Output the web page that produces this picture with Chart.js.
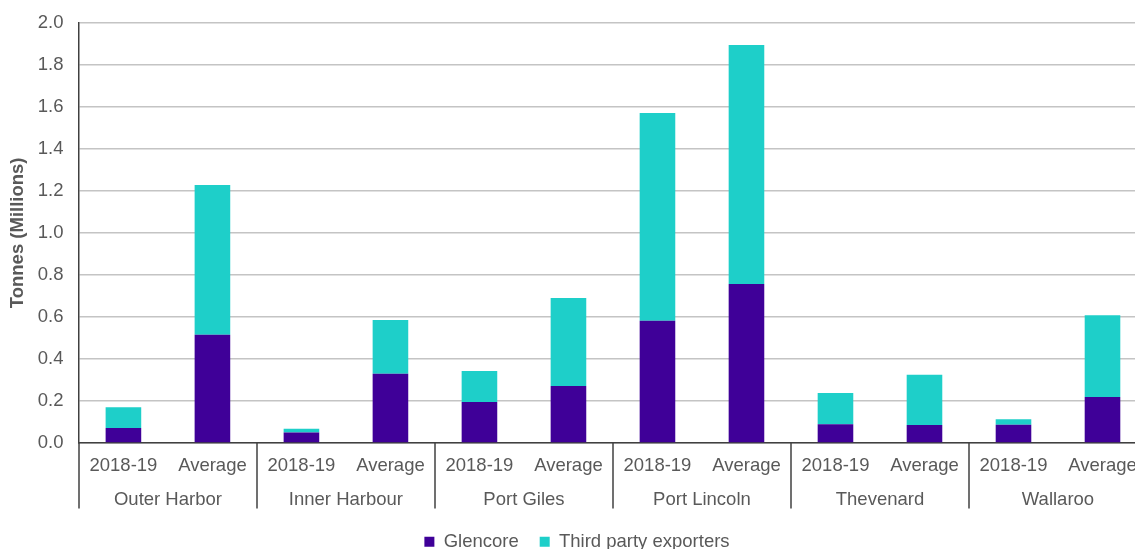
<!DOCTYPE html>
<html>
<head>
<meta charset="utf-8">
<script src="https://cdn.jsdelivr.net/npm/chart.js@4/dist/chart.umd.min.js"></script>
<style>
  html, body { margin: 0; padding: 0; background: #fff; overflow: hidden; }
  #wrap { position: relative; top: -4px; width: 1160px; height: 565px; }
</style>
</head>
<body>
<div id="wrap"><canvas id="portChart"></canvas></div>
<script>
const ports = ['Outer Harbor', 'Inner Harbour', 'Port Giles', 'Port Lincoln', 'Thevenard', 'Wallaroo'];
const periods = ['2018-19', 'Average', '2018-19', 'Average', '2018-19', 'Average',
                 '2018-19', 'Average', '2018-19', 'Average', '2018-19', 'Average'];
// tonnes, millions
const glencore = [0.072, 0.515, 0.050, 0.330, 0.195, 0.271, 0.582, 0.757, 0.090, 0.086, 0.087, 0.219];
const thirdParty = [0.098, 0.713, 0.018, 0.256, 0.148, 0.419, 0.988, 1.137, 0.148, 0.239, 0.027, 0.389];
const yTicks = [0, 0.2, 0.4, 0.6, 0.8, 1.0, 1.2, 1.4, 1.6, 1.8, 2.0];

const FONT = '"Liberation Sans", Arial, sans-serif';
const FONT_SIZE = 18.5;
const TEXT = '#595959';
const AXIS = '#404040';

// vertical dividers between the port groups, running through both label rows
const groupDividers = {
    id: 'groupDividers',
    afterDraw(chart) {
        const ctx = chart.ctx;
        const groupScale = chart.scales.x2;
        const top = chart.chartArea.bottom;
        const bottom = groupScale.bottom - 3;
        ctx.save();
        ctx.strokeStyle = AXIS;
        ctx.lineWidth = 1.5;
        for (let i = 0; i <= ports.length; i++) {
            const px = Math.round(groupScale.getPixelForValue(i - 0.5));
            ctx.beginPath();
            ctx.moveTo(px, top);
            ctx.lineTo(px, bottom);
            ctx.stroke();
        }
        ctx.restore();
    }
};

const ctx = document.getElementById('portChart').getContext('2d');
new Chart(ctx, {
    type: 'bar',
    data: {
        labels: periods,
        datasets: [{
            label: 'Glencore',
            data: glencore,
            backgroundColor: '#3f0098',
            barPercentage: 0.4,
            categoryPercentage: 1
        }, {
            label: 'Third party exporters',
            data: thirdParty,
            backgroundColor: '#1ecfc9',
            barPercentage: 0.4,
            categoryPercentage: 1
        }]
    },
    options: {
        responsive: true,
        maintainAspectRatio: false,
        animation: false,
        layout: { padding: { top: 9, left: 7, right: 13, bottom: 0 } },
        plugins: {
            tooltip: { enabled: false },
            legend: {
                position: 'bottom',
                labels: {
                    boxWidth: 10,
                    boxHeight: 10,
                    padding: 21,
                    color: TEXT,
                    font: { family: FONT, size: FONT_SIZE }
                }
            }
        },
        scales: {
            x: {
                stacked: true,
                weight: 0,
                grid: { display: false, drawTicks: false },
                border: { color: AXIS, width: 1.5 },
                ticks: { color: TEXT, padding: 12, font: { family: FONT, size: FONT_SIZE }, maxRotation: 0, autoSkip: false }
            },
            x2: {
                type: 'category',
                position: 'bottom',
                labels: ports,
                offset: true,
                weight: 1,
                grid: { display: false, drawTicks: false },
                border: { display: false },
                ticks: { color: TEXT, padding: 0, font: { family: FONT, size: FONT_SIZE }, maxRotation: 0, autoSkip: false }
            },
            y: {
                stacked: true,
                min: 0,
                max: 2,
                afterBuildTicks(scale) {
                    scale.ticks = yTicks.map(v => ({ value: v }));
                },
                grid: { color: '#c4c4c4', lineWidth: 1.5, drawTicks: false },
                border: { color: AXIS, width: 1.5 },
                ticks: {
                    color: TEXT,
                    padding: 15.5,
                    font: { family: FONT, size: FONT_SIZE },
                    callback: v => Number(v).toFixed(1)
                },
                title: {
                    display: true,
                    text: 'Tonnes (Millions)',
                    color: TEXT,
                    padding: { top: 0, bottom: -7 },
                    font: { family: FONT, size: FONT_SIZE, weight: 'bold' }
                }
            }
        }
    },
    plugins: [groupDividers]
});
</script>
</body>
</html>
